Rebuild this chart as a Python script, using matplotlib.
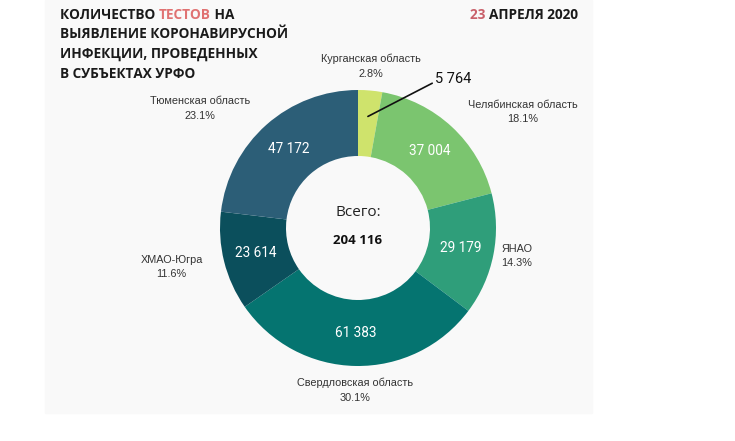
import numpy as np
import matplotlib
matplotlib.use("Agg")
import matplotlib.pyplot as plt
from matplotlib.patches import Rectangle
from matplotlib import font_manager

regions = ["Курганская область", "Челябинская область", "ЯНАО",
           "Свердловская область", "ХМАО-Югра", "Тюменская область"]
tests = [5764, 37004, 29179, 61383, 23614, 47172]
shares = ["2.8%", "18.1%", "14.3%", "30.1%", "11.6%", "23.1%"]
colors = ["#cfe36c", "#7bc56f", "#2f9e7a", "#057470", "#0b4f5c", "#2c5e77"]
total_label = "204 116"

# label gap from the outer edge (px) and small nudges (style only)
label_gap = [12, 12, 8, 12, 22, 12]
label_nudge = [(0, 0), (8, -6), (0, 0), (0, 0), (0, 0), (-8, -5)]

names = {f.name for f in font_manager.fontManager.ttflist}
narrow = "Liberation Sans Narrow" if "Liberation Sans Narrow" in names else "Roboto"

W, H = 735, 441
fig = plt.figure(figsize=(W / 100, H / 100), dpi=100)
ax = fig.add_axes([0, 0, 1, 1])

ax.add_patch(Rectangle((45, H - 413), 547, 413, color="#f9f9f9", zorder=0))

cx, cy, R, r_in = 358, H - 228, 138, 72
wedges, _ = ax.pie(tests, colors=colors, startangle=90, counterclock=False,
                   center=(cx, cy), radius=R,
                   wedgeprops=dict(width=R - r_in, linewidth=0), frame=True)
ax.set_xlim(0, W)
ax.set_ylim(0, H)
ax.set_aspect("equal")
ax.axis("off")

def fmt(v):
    return f"{v:,}".replace(",", " ")

for i, w in enumerate(wedges):
    mid = np.deg2rad((w.theta1 + w.theta2) / 2)
    c, s = np.cos(mid), np.sin(mid)
    if i == 0:
        px, py = cx + 112 * c, cy + 112 * s
        ax.annotate(fmt(tests[i]), xy=(px, py), xytext=(435, H - 79),
                    fontsize=10.5, family="Roboto", color="#111111",
                    va="center", ha="left",
                    arrowprops=dict(arrowstyle="-", color="#111111", lw=1.2,
                                    shrinkA=0, shrinkB=0,
                                    relpos=(0, 0.3)))
    else:
        rm = (R + r_in) / 2
        ax.text(cx + rm * c, cy + rm * s, fmt(tests[i]), color="white",
                fontsize=9.8, family=narrow, ha="center", va="center")
    ha = "left" if c > 0.3 else ("right" if c < -0.3 else "center")
    va = "bottom" if s > 0.3 else ("top" if s < -0.3 else "center")
    d = R + label_gap[i]
    x = cx + d * c + label_nudge[i][0]
    y = cy + d * s + label_nudge[i][1]
    ax.text(x, y, regions[i] + "\n" + shares[i],
            fontsize=7.8, family="Liberation Sans", color="#333333",
            ha=ha, va=va, multialignment="center", linespacing=1.55)

ax.text(cx, H - 213, "Всего:", fontsize=11, family="Open Sans", color="#222222",
        ha="center", va="center")
ax.text(cx, H - 240, total_label, fontsize=9.5, family="Open Sans",
        weight="bold", color="#111111", ha="center", va="center")

tkw = dict(fontsize=9.8, family="Open Sans", weight="bold", va="center")
dark, red = "#1a1a1a", "#e07272"
t1 = ax.text(60, H - 15, "КОЛИЧЕСТВО ", color=dark, **tkw)
t2 = ax.annotate("ТЕСТОВ", xy=(1, 0.5), xycoords=t1, color=red,
                 ha="left", **tkw)
ax.annotate(" НА", xy=(1, 0.5), xycoords=t2, color=dark, ha="left", **tkw)
for k, line in enumerate(["ВЫЯВЛЕНИЕ КОРОНАВИРУСНОЙ", "ИНФЕКЦИИ, ПРОВЕДЕННЫХ",
                          "В СУБЪЕКТАХ УРФО"]):
    ax.text(60, H - 34.5 - 19.5 * k, line, color=dark, **tkw)

d2 = ax.text(578, H - 15, "АПРЕЛЯ 2020", color=dark, ha="right", **tkw)
ax.annotate("23 ", xy=(0, 0.5), xycoords=d2, color="#c9606a", ha="right", **tkw)

fig.savefig("out.png", dpi=100, facecolor="white")
